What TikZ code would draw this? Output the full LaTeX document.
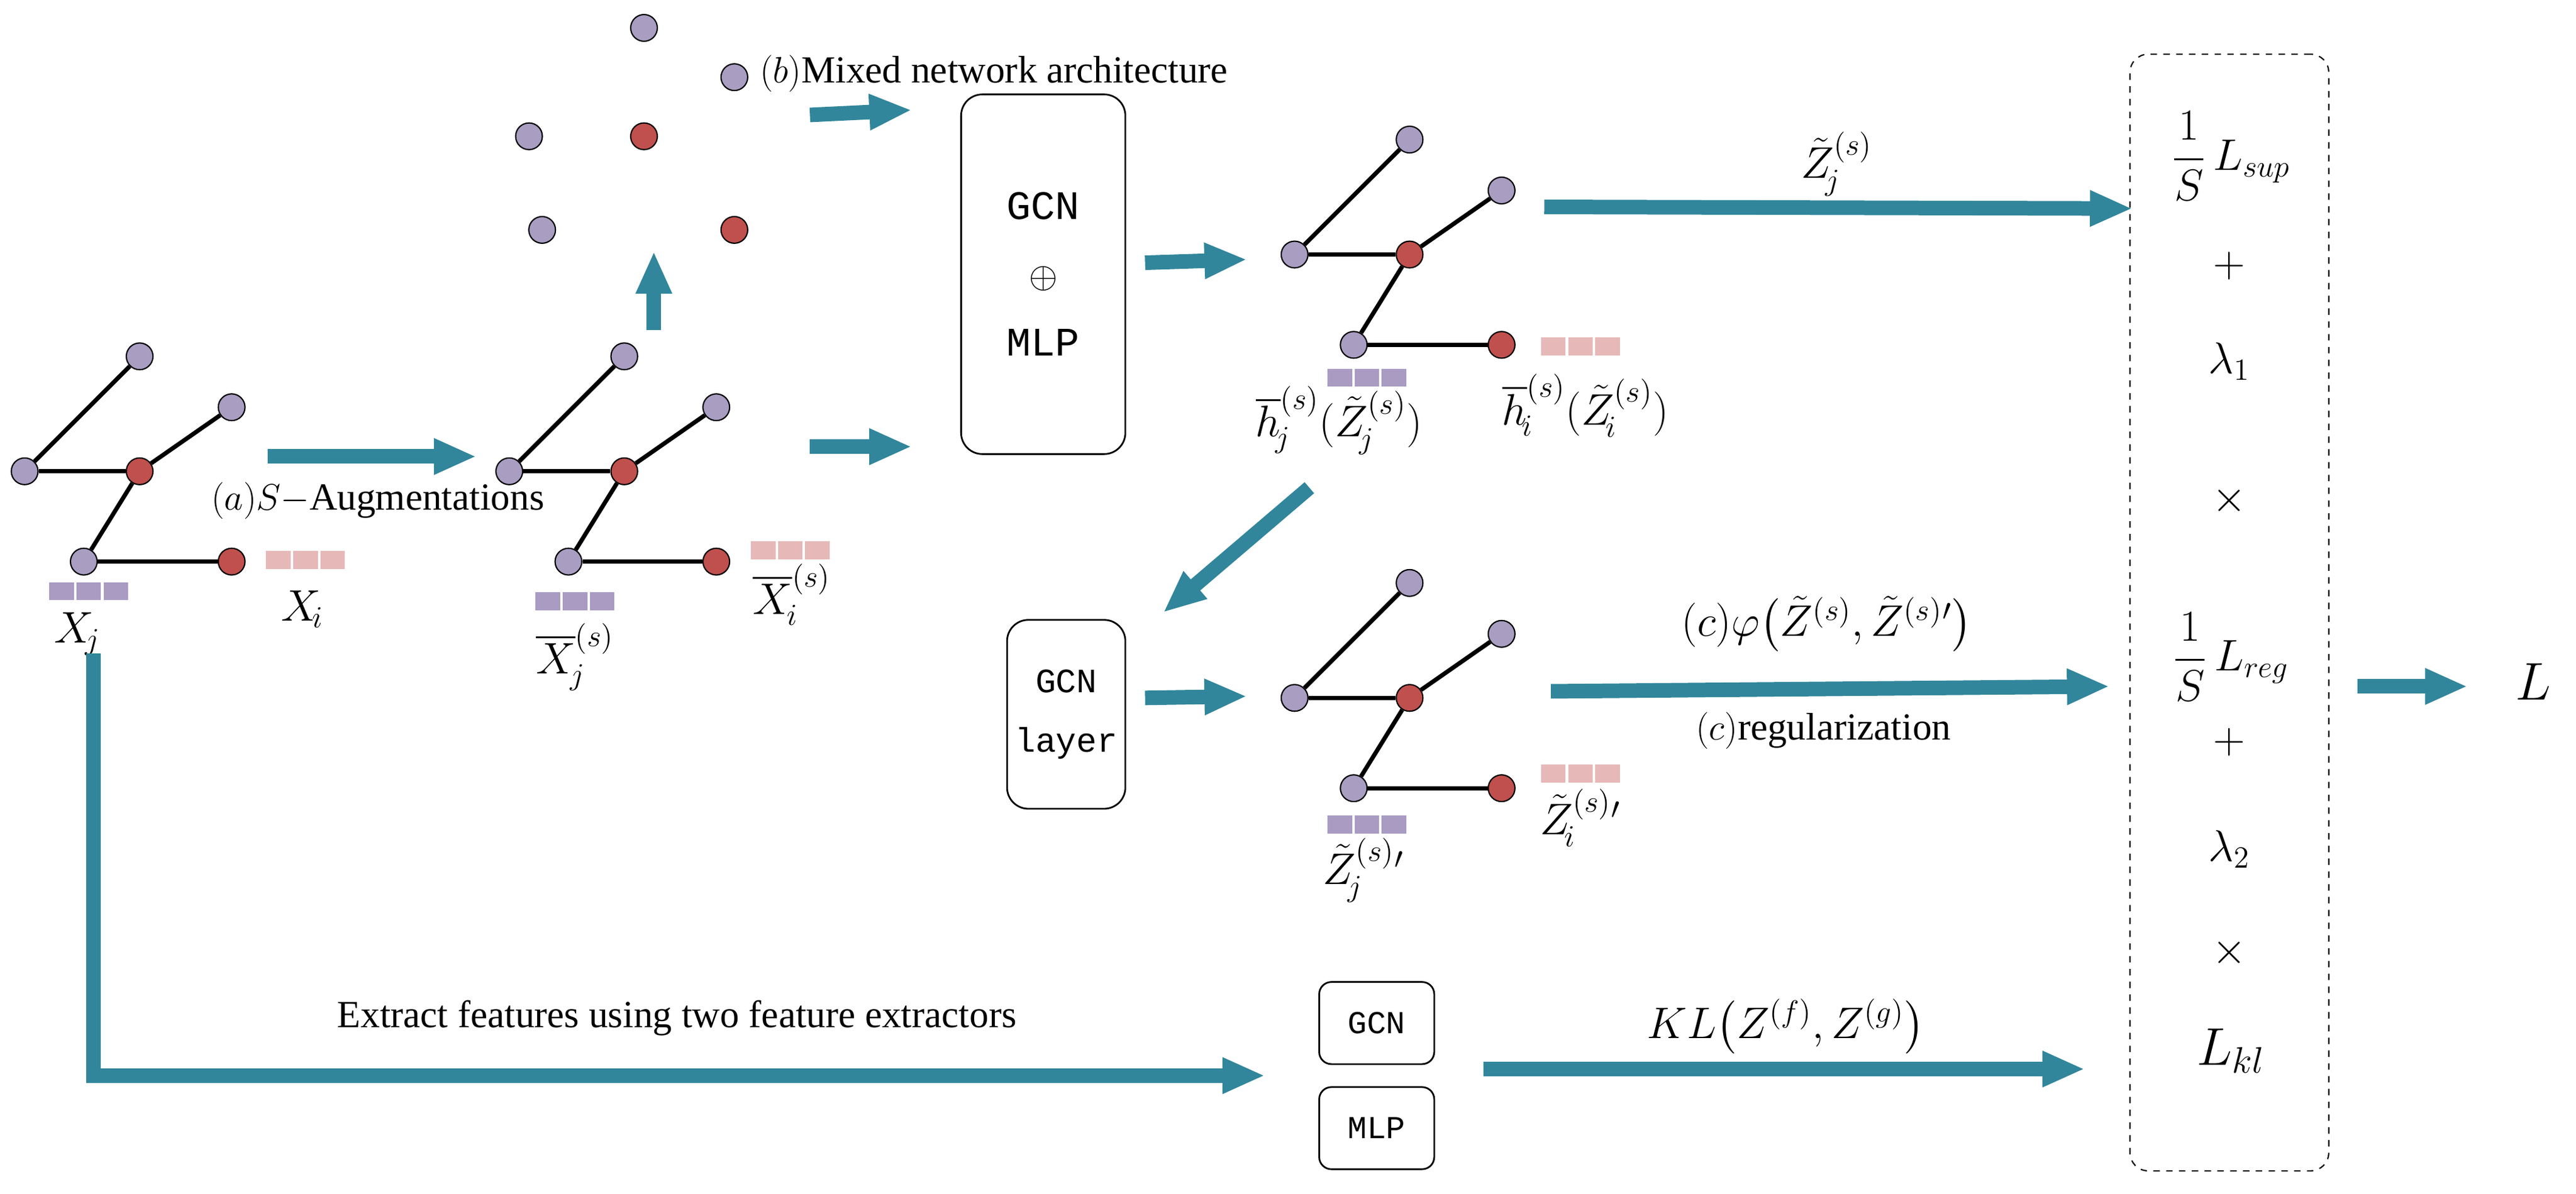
\documentclass[tikz,border=0pt]{standalone}
\usepackage{amsmath}
\usepackage{fontspec}
\setmainfont{Liberation Serif}
\setmonofont{Liberation Mono}
\usetikzlibrary{positioning, arrows.meta}
\definecolor{flowc}{RGB}{49,134,155}
\definecolor{nodep}{RGB}{169,157,194}
\definecolor{noder}{RGB}{192,80,77}
\definecolor{featp}{RGB}{169,155,194}
\definecolor{featr}{RGB}{230,185,184}
\tikzset{
  flow/.style={draw=flowc, line width=0.24cm, -{Triangle[length=0.7cm, width=0.55cm]}},
  vtx/.style={draw, circle, inner sep=0pt, minimum width=0.4cm, minimum height=0.44cm, line width=0.6pt},
  pv/.style={vtx, fill=nodep},
  rv/.style={vtx, fill=noder},
  edge/.style={line width=2pt},
  lbl/.style={font=\fontsize{21}{24}\selectfont},
  txt/.style={font=\fontsize{18}{22}\selectfont},
  box/.style={draw, rounded corners=0.35cm, line width=0.8pt, font=\ttfamily\fontsize{19}{32}\selectfont, align=center}
}
% small graph: #1 name prefix, (#2,#3) centre node
\newcommand{\smallgraph}[3]{
  \begin{scope}[shift={(#2,#3)}]
    \node[pv] (#1t) at (0,-70) {};
    \node[pv] (#1b) at (56,-39) {};
    \node[pv] (#1l) at (-70,0) {};
    \node[rv] (#1c) at (0,0) {};
    \node[pv] (#1d) at (-34,55) {};
    \node[rv] (#1r) at (56,55) {};
    \draw[edge] (#1l) -- (#1t);
    \draw[edge] (#1l) -- (#1c);
    \draw[edge] (#1c) -- (#1b);
    \draw[edge] (#1c) -- (#1d);
    \draw[edge] (#1d) -- (#1r);
  \end{scope}
}
% feature bar of three squares, left end at (#2,#3)
\newcommand{\featbar}[3]{
  \foreach \k in {0,1,2}
    \fill[#1] (#2+\k*16.5,#3-5.5) rectangle ++(15,11);
}
\begin{document}
\begin{tikzpicture}[x=0.02707cm, y=-0.02707cm]
  \useasboundingbox (0,0) rectangle (1568,727);

  % input graph and its augmentation
  \smallgraph{g}{85}{287}
  \featbar{featp}{30}{360}
  \featbar{featr}{162}{341}
  \node[lbl] (xj) at (47,386) {$X_{\!j}$};
  \node[lbl] (xi) at (184,371) {$X_{\!i}$};

  \smallgraph{a}{380}{287}
  \featbar{featp}{326}{366}
  \featbar{featr}{457}{335}
  \node[lbl] (axj) at (350,400) {$\overline{X}_{\!j}^{(s)}$};
  \node[lbl] (axi) at (482,362) {$\overline{X}_{\!i}^{(s)}$};

  \coordinate (a1) at (163,278);
  \coordinate (a2) at (290,278);
  \draw[flow] (a1) -- (a2);
  \node[txt] (augl) at (230,305) {$(a)S-$Augmentations};

  % mixed nodes
  \node[pv] (m1) at (392,17) {};
  \node[pv] (m2) at (447,47) {};
  \node[pv] (m3) at (322,83) {};
  \node[rv] (m4) at (392,83) {};
  \node[pv] (m5) at (330,140) {};
  \node[rv] (m6) at (447,140) {};
  \node[txt, anchor=west] (mixl) at (458,45) {$(b)$Mixed network architecture};
  \coordinate (u1) at (398,201);
  \coordinate (u2) at (398,153);
  \draw[flow] (u1) -- (u2);

  % GCN + MLP
  \node[box, minimum width=100*0.02707cm, minimum height=219*0.02707cm] (mix) at (635,167) {GCN\\$\oplus$\\MLP};
  \coordinate (b1) at (493,70);
  \coordinate (b2) at (555,67);
  \coordinate (b3) at (493,272);
  \coordinate (b4) at (555,272);
  \draw[flow] (b1) -- (b2);
  \draw[flow] (b3) -- (b4);
  \coordinate (c1) at (697,160);
  \draw[flow] (c1) -- ++(62,-2);

  \smallgraph{h}{858}{155}
  \featbar{featp}{808}{230}
  \featbar{featr}{938}{211}
  \node[lbl] (hj) at (815,256) {$\overline{h}_{\!j}^{(s)}(\tilde{Z}_{\!j}^{(s)})$};
  \node[lbl] (hi) at (965,247) {$\overline{h}_{\!i}^{(s)}(\tilde{Z}_{\!i}^{(s)})$};

  \coordinate (z1) at (940,126);
  \coordinate (z2) at (1298,127);
  \draw[flow] (z1) -- (z2);
  \node[lbl] (zl) at (1118,100) {$\tilde{Z}_{\!j}^{(s)}$};

  % GCN layer branch
  \coordinate (d1) at (797,297);
  \coordinate (d2) at (708,373);
  \draw[flow] (d1) -- (d2);
  \node[box, minimum width=72*0.02707cm, minimum height=115*0.02707cm, font=\ttfamily\fontsize{16}{28}\selectfont] (gl) at (649,435) {GCN\\layer};
  \coordinate (e1) at (697,425);
  \draw[flow] (e1) -- ++(62,-1);

  \smallgraph{p}{858}{425}
  \featbar{featp}{808}{502}
  \featbar{featr}{938}{471}
  \node[lbl] (pj) at (830,530) {$\tilde{Z}_{\!j}^{(s)}{}'$};
  \node[lbl] (pi) at (962,498) {$\tilde{Z}_{\!i}^{(s)}{}'$};

  \coordinate (r1) at (944,421);
  \coordinate (r2) at (1284,418);
  \draw[flow] (r1) -- (r2);
  \node[lbl] (rl) at (1112,380) {$(c)\varphi\big(\tilde{Z}^{(s)},\tilde{Z}^{(s)}{}'\big)$};
  \node[txt] (rg) at (1110,445) {$(c)$regularization};

  % two feature extractors
  \coordinate (f1) at (57,398);
  \coordinate (f2) at (57,655);
  \coordinate (f3) at (770,655);
  \draw[flow] (f1) -- (f2) -- (f3);
  \node[txt] (fl) at (412,620) {Extract features using two feature extractors};
  \node[box, rounded corners=0.2cm, minimum width=70*0.02707cm, minimum height=50*0.02707cm, font=\ttfamily\fontsize{15}{17}\selectfont] (gcn) at (838,623) {GCN};
  \node[box, rounded corners=0.2cm, minimum width=70*0.02707cm, minimum height=50*0.02707cm, font=\ttfamily\fontsize{15}{17}\selectfont] (mlp) at (838,687) {MLP};
  \coordinate (k1) at (903,651);
  \coordinate (k2) at (1269,651);
  \draw[flow] (k1) -- (k2);
  \node[lbl] (kl) at (1087,625) {$KL\big(Z^{(f)},Z^{(g)}\big)$};

  % loss
  \node[draw, dashed, rounded corners=0.3cm, line width=0.6pt, minimum width=121*0.02707cm, minimum height=680*0.02707cm] (loss) at (1357,373) {};
  \node[lbl] (t1) at (1358,95) {$\dfrac{1}{S}\,L_{sup}$};
  \node[lbl] (t2) at (1357,162) {$+$};
  \node[lbl] (t3) at (1357,220) {$\lambda_1$};
  \node[lbl] (t4) at (1357,305) {$\times$};
  \node[lbl] (t5) at (1358,400) {$\dfrac{1}{S}\,L_{reg}$};
  \node[lbl] (t6) at (1357,452) {$+$};
  \node[lbl] (t7) at (1357,517) {$\lambda_2$};
  \node[lbl] (t8) at (1357,580) {$\times$};
  \node[lbl, font=\fontsize{26}{30}\selectfont] (t9) at (1358,640) {$L_{kl}$};
  \coordinate (o1) at (1435,418);
  \coordinate (o2) at (1502,418);
  \draw[flow] (o1) -- (o2);
  \node[font=\fontsize{46}{50}\selectfont] (ll) at (1542,415) {$L$};
\end{tikzpicture}
\end{document}
